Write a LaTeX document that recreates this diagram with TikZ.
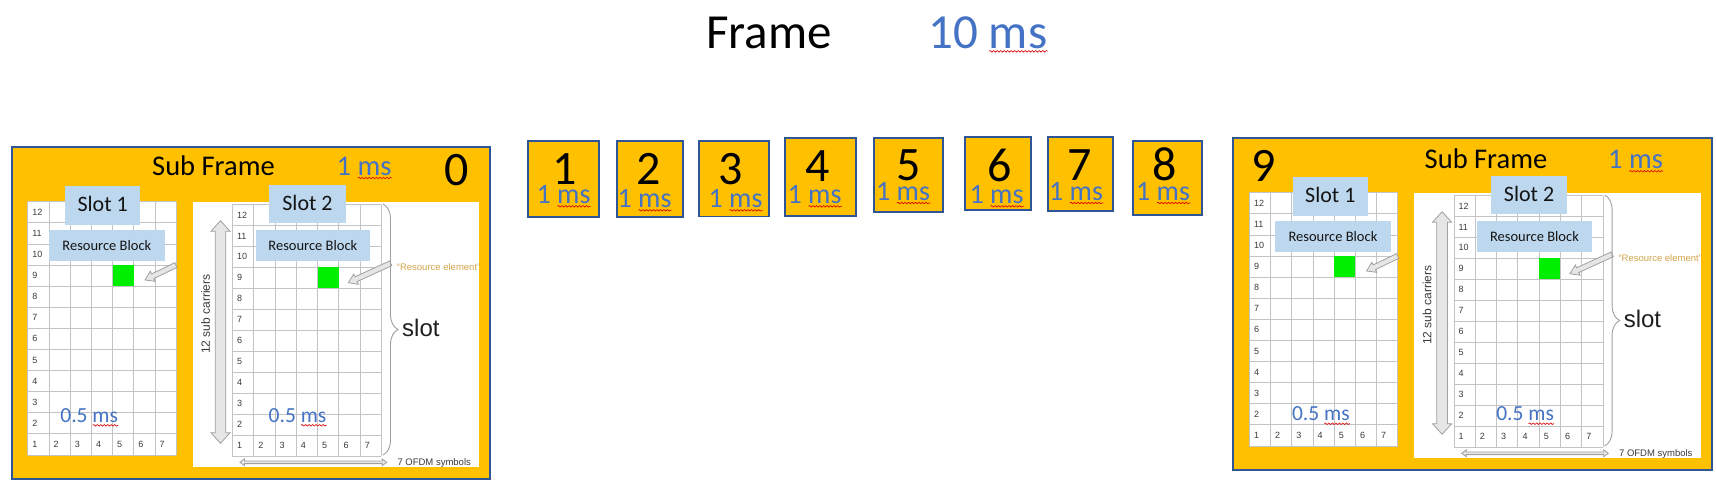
\documentclass[tikz,border=0pt]{standalone}
\usepackage{fontspec}
\setmainfont{Carlito}
\newfontfamily\arialf{Liberation Sans}
\usetikzlibrary{decorations.pathmorphing,decorations.pathreplacing,calc}
\definecolor{gold}{HTML}{FFC000}
\definecolor{frameblue}{HTML}{2F5597}
\definecolor{lblue}{HTML}{BDD7EE}
\definecolor{msblue}{HTML}{4472C4}
\definecolor{gridgray}{HTML}{C4C4C4}
\definecolor{numgray}{HTML}{3A3A3A}
\definecolor{arrowgray}{HTML}{A0A0A0}
\definecolor{arrowfill}{HTML}{E6E6E6}
\definecolor{regold}{HTML}{D2A54A}
\definecolor{regreen}{HTML}{00EE00}
\newcommand\setfs[1]{\fontsize{#1}{#1}\selectfont}
% "1 ms" style text with red squiggle under "ms"
\newcommand\msnode[5]{%
  \node[txt, text=msblue, font=\setfs{#4}] (#1) at (#2,#3) {#5 ms};
  \draw[squig] ($(#1.base east)+({-1.19*#4},3)$) -- ($(#1.base east)+(0,3)$);
}
% block arrow: tail x, tail y, angle, length, shaft half, head half, head length
\newcommand\blkarrow[7]{%
  \begin{scope}[shift={(#1,#2)}, rotate=#3]
    \filldraw[blockarrow] (0,-#5) -- ({#4-#7},-#5) -- ({#4-#7},-#6) -- (#4,0)
      -- ({#4-#7},#6) -- ({#4-#7},#5) -- (0,#5) -- cycle;
  \end{scope}}
% double arrow: end x, end y, angle, length, shaft half, head half, head length
\newcommand\dblarrow[7]{%
  \begin{scope}[shift={(#1,#2)}, rotate=#3]
    \filldraw[blockarrow] (0,0) -- (#7,-#6) -- (#7,-#5) -- ({#4-#7},-#5) -- ({#4-#7},-#6) -- (#4,0)
      -- ({#4-#7},#6) -- ({#4-#7},#5) -- (#7,#5) -- (#7,#6) -- cycle;
  \end{scope}}
% resource grid: prefix, x0, y0, cell w, cell h
\newcommand\rbgrid[5]{%
  \fill[white] (#2,#3) rectangle ({#2+7*#4},{#3+12*#5});
  \foreach \i in {0,...,7} \draw[gridline] ({#2+\i*#4},#3) -- ({#2+\i*#4},{#3+12*#5});
  \foreach \j in {0,...,12} \draw[gridline] (#2,{#3+\j*#5}) -- ({#2+7*#4},{#3+\j*#5});
  \fill[regreen] ({#2+4*#4},{#3+3*#5}) rectangle ++(#4,#5);
  \foreach \r in {2,...,12} \node[gridnum] (#1r\r) at ({#2+4.5},{#3+(12.5-\r)*#5}) {\r};
  \foreach \c in {1,...,7} \node[gridnum] (#1c\c) at ({#2+(\c-1)*#4+4.5},{#3+11.5*#5}) {\c};
}
% sub frame body: prefix, slot1 dx, 0.5ms-left dx, 0.5ms-right dx, 0.5ms dy
\newcommand\subframebody[5]{%
  \node[sfbox, anchor=north west, minimum width=478.6, minimum height=332.3] (#1frame) at (10.7,145.7) {};
  \fill[white] (192.7,201.7) rectangle (479.3,467.3);
  \rbgrid{#1a}{27.7}{201.7}{21.2}{21.1}
  \rbgrid{#1b}{232.3}{204.5}{21.3}{20.95}
  \node[lbbox, minimum width=74.7, minimum height=39, font=\setfs{22}] (#1s1) at ({102.7+#2},205.5) {\raisebox{3pt}{Slot 1}};
  \node[lbbox, minimum width=115.7, minimum height=30.7, font=\setfs{14.5}] (#1rb1) at ({106.85+#2*0.75},245.35) {Resource Block};
  \node[lbbox, minimum width=76.4, minimum height=38.3, font=\setfs{22}] (#1s2) at (307.5,204.15) {\raisebox{3pt}{Slot 2}};
  \node[lbbox, minimum width=114.3, minimum height=30.7, font=\setfs{14.5}] (#1rb2) at (312.85,245.35) {Resource Block};
  \blkarrow{176}{265}{205.8}{34.4}{2.6}{5.6}{8.5}
  \blkarrow{390.7}{263.3}{204.6}{46.6}{2.6}{5.6}{8.5}
  \dblarrow{220.5}{443.3}{90}{222.6}{5.3}{9.5}{10.5}
  \node[font=\arialf\setfs{12}, rotate=90, text=numgray, inner sep=0] (#1sc) at (205.5,314) {12 sub carriers};
  \dblarrow{240}{462.3}{0}{146.7}{1.3}{3.4}{4.5}
  \node[txt, font=\arialf\setfs{9.5}, text=numgray] (#1ofdm) at (397.3,465.5) {7 OFDM symbols};
  \draw[bracestyle] (383,204) -- (383,455);
  \node[txt, font=\arialf\setfs{24}, text=black!88] (#1slot) at (402,336) {slot};
  \node[txt, font=\arialf\setfs{9.5}, text=regold] (#1re) at (396.7,270) {“Resource element”};
  \msnode{#1hl}{60.2+#3}{422.3+#5}{21.5}{0.5}
  \msnode{#1hr}{268.5+#4}{422.3+#5}{21.5}{0.5}
}
\begin{document}
\begin{tikzpicture}[x=1pt,y=-1pt,
  txt/.style={inner sep=0, anchor=base west},
  squig/.style={draw=red!85!black, line width=0.6pt, decorate, decoration={snake, segment length=3.5pt, amplitude=0.8pt}},
  sfbox/.style={fill=gold, draw=frameblue, line width=1.8pt, inner sep=0},
  smallbox/.style={fill=gold, draw=frameblue, line width=1.8pt, inner sep=0, anchor=north west},
  lbbox/.style={fill=lblue, draw=none, inner sep=0, text=black!92},
  gridline/.style={draw=gridgray, line width=0.8pt},
  gridnum/.style={font=\arialf\setfs{9}, text=numgray, anchor=west, inner sep=0},
  blockarrow/.style={draw=arrowgray, fill=arrowfill, line width=0.8pt, line join=miter},
  bracestyle/.style={draw=arrowgray, line width=0.9pt, decorate, decoration={brace, amplitude=15pt}},
  digit/.style={inner sep=0, anchor=base, font=\setfs{48}}
]
\useasboundingbox (0,0) rectangle (1716,482);
\fill[white] (0,0) rectangle (1716,482);

% title
\node[txt, font=\setfs{49}] (frame) at (706,48.3) {Frame};
\msnode{tenms}{928}{48.3}{49}{10}

% sub frame 0
\subframebody{L}{0}{0}{0}{0}
\node[txt, font=\setfs{48}] (zero) at (444.5,185) {0};
\node[txt, font=\setfs{28.5}] (sf0) at (152,175) {Sub Frame};
\msnode{ms0}{336.5}{175}{28.5}{1}

% sub frames 1..8
\node[smallbox, minimum width=71.6, minimum height=75.7] (b1) at (526.7,140) {};
\node[digit] (d1) at (564.7,184) {1};
\msnode{m1}{536.5}{203.3}{28}{1}
\node[smallbox, minimum width=65.7, minimum height=75.7] (b2) at (616,140) {};
\node[digit] (d2) at (648.5,184) {2};
\msnode{m2}{617.5}{207.3}{28}{1}
\node[smallbox, minimum width=69.7, minimum height=75.5] (b3) at (698,140) {};
\node[digit] (d3) at (730.5,184) {3};
\msnode{m3}{708.5}{207.3}{28}{1}
\node[smallbox, minimum width=71, minimum height=78] (b4) at (784,137) {};
\node[digit] (d4) at (817.8,181) {4};
\msnode{m4}{787.5}{203.3}{28}{1}
\node[smallbox, minimum width=68.4, minimum height=73.4] (b5) at (873.3,137.3) {};
\node[digit] (d5) at (908.3,180.5) {5};
\msnode{m5}{876}{200}{28}{1}
\node[smallbox, minimum width=66, minimum height=73.3] (b6) at (964,136) {};
\node[digit] (d6) at (1000,181) {6};
\msnode{m6}{969.5}{203.3}{28}{1}
\node[smallbox, minimum width=65.6, minimum height=74] (b7) at (1046.7,136) {};
\node[digit] (d7) at (1080,180.5) {7};
\msnode{m7}{1049}{200}{28}{1}
\node[smallbox, minimum width=68.7, minimum height=74.3] (b8) at (1132.3,140) {};
\node[digit] (d8) at (1165,180.5) {8};
\msnode{m8}{1136}{200}{28}{1}

% sub frame 9
\begin{scope}[shift={(1221.6,-9)}]
\subframebody{R}{6}{10}{6}{7.4}
\end{scope}
\node[txt, font=\setfs{48}] (nine) at (1251,181.7) {9};
\node[txt, font=\setfs{28.5}] (sf9) at (1424.5,168.3) {Sub Frame};
\msnode{ms9}{1608}{168.3}{28.5}{1}
\end{tikzpicture}
\end{document}
